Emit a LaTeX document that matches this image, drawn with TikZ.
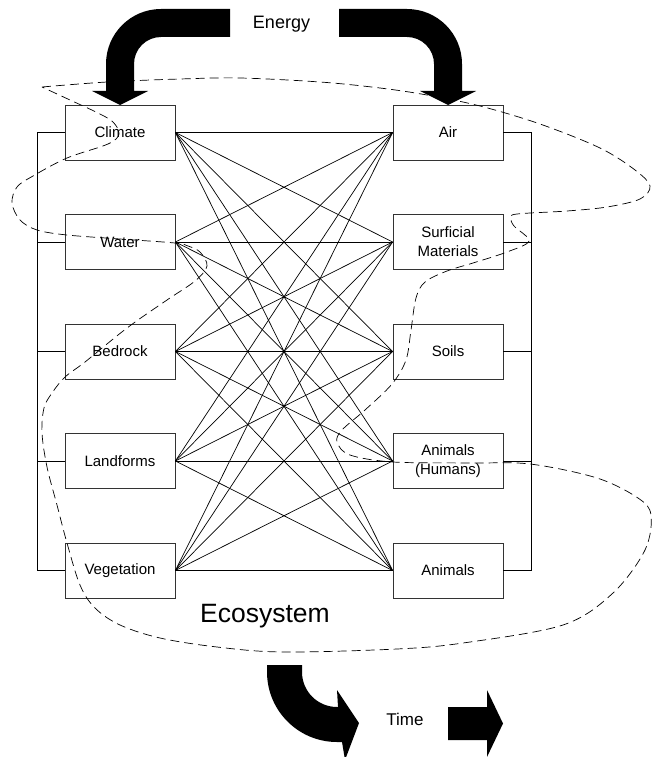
\documentclass[tikz,border=0pt]{standalone}
\usepackage{fontspec}
\setmainfont{Liberation Sans}
\begin{document}
\begin{tikzpicture}[x=1pt,y=-1pt,
  box/.style={draw=black!80, line width=0.8pt, minimum width=110pt, minimum height=55pt, inner sep=0pt, align=center, font=\fontsize{15}{19}\selectfont},
  link/.style={line width=0.7pt},
  bus/.style={line width=0.8pt},
  bigarrow/.style={fill=black, draw=none},
  eco/.style={dash pattern=on 9pt off 5pt, line width=0.7pt}]
\useasboundingbox (0,0) rectangle (651,757);
% boxes
\node[box] (climate) at (120,132.5) {Climate};
\node[box] (water) at (120,242) {Water};
\node[box] (bedrock) at (120,351.5) {Bedrock};
\node[box] (landforms) at (120,461) {Landforms};
\node[box] (vegetation) at (120,570.5) {Vegetation};
\node[box] (air) at (448,132.5) {Air};
\node[box] (surf) at (448,242) {Surficial\\Materials};
\node[box] (soils) at (448,351.5) {Soils};
\node[box] (humans) at (448,461) {Animals\\(Humans)};
\node[box] (animals) at (448,570.5) {Animals};
% links
\foreach \l in {climate,water,bedrock,landforms,vegetation}
  \foreach \r in {air,surf,soils,humans,animals}
    \draw[link] (\l.east) -- (\r.west);
% buses
\draw[bus] (climate.west) -- ++(-27,0) |- (vegetation.west);
\foreach \n in {water,bedrock,landforms} \draw[bus] (\n.west) -- ++(-27,0);
\draw[bus] (air.east) -- ++(28,0) |- (animals.east);
\foreach \n in {surf,soils,humans} \draw[bus] (\n.east) -- ++(28,0);
% energy arrows
\fill[bigarrow] (230,9) -- (161,9) arc[start angle=270, end angle=180, radius=55]
  -- (106,91) -- (92,91) -- (120,105) -- (148,91) -- (134,91) -- (134,64)
  arc[start angle=180, end angle=270, radius=27] -- (230,37) -- cycle;
\fill[bigarrow] (339,9) -- (407,9) arc[start angle=270, end angle=360, radius=55]
  -- (462,91) -- (476,91) -- (448,105) -- (420,91) -- (434,91) -- (434,64)
  arc[start angle=0, end angle=-90, radius=27] -- (339,37) -- cycle;
% time arrows
\fill[bigarrow] (267,665) -- (267,672) arc[start angle=180, end angle=90, radius=70]
  -- (342,742) -- (345,760) -- (359,723) -- (337,690) -- (338,707) -- (337,707)
  arc[start angle=90, end angle=180, radius=35] -- (302,665) -- cycle;
\fill[bigarrow] (448,707) -- (487,707) -- (487,690) -- (503,723.5) -- (487,757) -- (487,740) -- (448,740) -- cycle;
% labels
\node[font=\fontsize{18}{18}\selectfont, anchor=base] (energy) at (281.5,29) {Energy};
\node[font=\fontsize{26.5}{26.5}\selectfont, anchor=base] (ecosys) at (265,622) {Ecosystem};
\node[font=\fontsize{17}{17}\selectfont, anchor=base] (time) at (405,725) {Time};
% ecosystem boundary
\draw[eco] plot[smooth, tension=0.55] coordinates {
 (42,87) (107,82) (180,79) (240,78) (320,82) (380,88) (427,95) (480,106) (540,124)
 (600,148) (635,170) (650,186) (640,199) (607,207) (567,211) (517,214) (511,218)
 (514,226) (529,241) (507,252) (473,263) (447,271) (425,282) (416,298) (411,330)
 (406,360) (392,384) (365,410) (342,430) (337,442) (350,455) (393,462) (470,463)
 (530,464) (597,478) (638,498) (651,515) (645,550) (613,593) (563,625) (463,643)
 (397,649) (283,652) (217,647) (160,638) (120,625) (95,608) (80,585) (67,543)
 (57,505) (47,467) (42,433) (44,408) (52,393) (65,377) (85,362) (127,328) (167,300)
 (195,281) (207,266) (200,252) (188,246) (175,243) (120,239) (67,235) (37,230)
 (20,220) (12,203) (17,187) (33,176) (67,158) (108,144) (119,134) (113,122)
 (98,113) (70,100) (42,87)};
\end{tikzpicture}
\end{document}
